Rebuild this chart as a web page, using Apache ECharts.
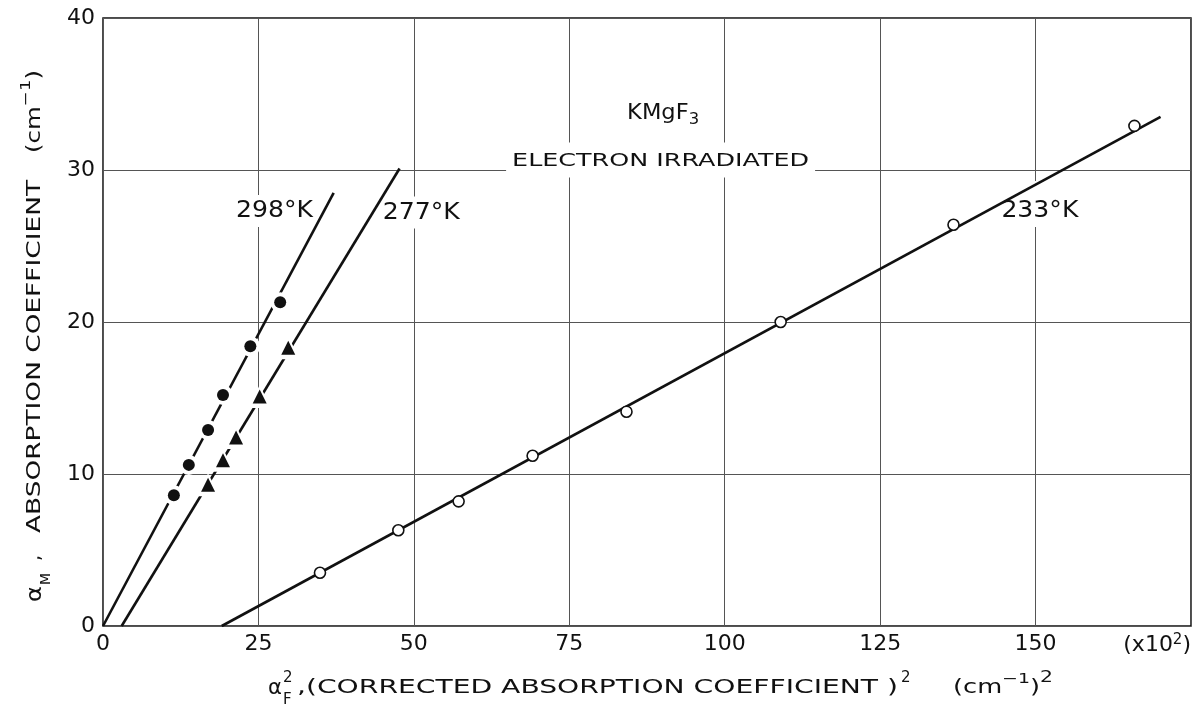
<!DOCTYPE html>
<html>
<head>
<meta charset="utf-8">
<script src="https://cdn.jsdelivr.net/npm/echarts@6/dist/echarts.min.js"></script>
<style>
  html, body { margin: 0; padding: 0; background: #fff; }
  #chart { width: 1202px; height: 712px; }
</style>
</head>
<body>
<div id="chart"></div>
<script>
// KMgF3, electron irradiated: alpha_M plotted against alpha_F^2 at three temperatures.

// Axis ticks (x in units of 10^2 cm^-2)
const xTickValues = [0, 25, 50, 75, 100, 125, 150, 175];
const xTickLabels = ['0', '25', '50', '75', '100', '125', '150', '(x10²)'];
const yTickValues = [0, 10, 20, 30, 40];

// 298 °K — filled circles
const k298X = [11.4, 13.8, 16.9, 19.3, 23.7, 28.5];
const k298Y = [8.6, 10.6, 12.9, 15.2, 18.4, 21.3];

// 277 °K — filled triangles
const k277X = [16.9, 19.3, 21.4, 25.2, 29.8];
const k277Y = [9.3, 10.9, 12.4, 15.1, 18.3];

// 233 °K — open circles
const k233X = [34.9, 47.5, 57.2, 69.1, 84.2, 109.0, 136.8, 165.9];
const k233Y = [3.5, 6.3, 8.2, 11.2, 14.1, 20.0, 26.4, 32.9];

// Straight-line fits (end points)
const fit298X = [0, 37.1];
const fit298Y = [0, 28.5];
const fit277X = [3.0, 47.7];
const fit277Y = [0, 30.1];
const fit233X = [19.1, 170.1];
const fit233Y = [0, 33.5];

// ---------------------------------------------------------------------------
const FONT = 'DejaVu Sans';
const INK = '#111';

const pairs = (xs, ys) => xs.map((x, i) => [x, ys[i]]);

const chart = echarts.init(document.getElementById('chart'), null, { renderer: 'canvas' });

const fitLine = (xs, ys) => ({
  type: 'line',
  data: pairs(xs, ys),
  symbol: 'none',
  silent: true,
  lineStyle: { color: INK, width: 2.6 },
  z: 2
});

// white halo under a filled marker, so the fitted line breaks around it
const halo = (xs, ys, symbol, size) => ({
  type: 'scatter', data: pairs(xs, ys), symbol: symbol, symbolSize: size,
  silent: true, z: 3,
  itemStyle: { color: '#fff', opacity: 1 }
});

// tick label text -> rich text, with "²" set as a raised small 2
const tickRich = s => s.indexOf('²') >= 0
  ? s.split('²').map(part => part ? '{a|' + part + '}' : '').join('{b|2}')
  : s;

chart.setOption({
  animation: false,
  backgroundColor: '#fff',
  grid: {
    left: 103, right: 11, top: 18, bottom: 86,
    show: true, borderColor: INK, borderWidth: 1.5, backgroundColor: 'transparent'
  },
  xAxis: {
    type: 'value',
    min: xTickValues[0],
    max: xTickValues[xTickValues.length - 1],
    interval: xTickValues[1] - xTickValues[0],
    axisLine: { show: false },
    axisTick: { show: false },
    splitLine: { show: true, lineStyle: { color: '#555', width: 1 } },
    axisLabel: {
      fontFamily: FONT, fontSize: 22, color: INK, margin: 7,
      alignMaxLabel: 'right',
      formatter: v => {
        const i = xTickValues.indexOf(v);
        return i < 0 ? '' : tickRich(xTickLabels[i]);
      },
      rich: {
        a: { fontFamily: FONT, fontSize: 22, color: INK, lineHeight: 24 },
        b: { fontFamily: FONT, fontSize: 15, color: INK, lineHeight: 8, verticalAlign: 'top' }
      }
    }
  },
  yAxis: {
    type: 'value',
    min: yTickValues[0],
    max: yTickValues[yTickValues.length - 1],
    interval: yTickValues[1] - yTickValues[0],
    axisLine: { show: false },
    axisTick: { show: false },
    splitLine: { show: true, lineStyle: { color: '#555', width: 1 } },
    axisLabel: { fontFamily: FONT, fontSize: 22, color: INK, margin: 8 }
  },
  series: [
    fitLine(fit298X, fit298Y),
    fitLine(fit277X, fit277Y),
    fitLine(fit233X, fit233Y),
    halo(k298X, k298Y, 'circle', 20),
    halo(k277X, k277Y, 'triangle', 23),
    {
      name: '298°K', type: 'scatter', data: pairs(k298X, k298Y),
      symbol: 'circle', symbolSize: 12, z: 4,
      itemStyle: { color: INK, opacity: 1 }
    },
    {
      name: '277°K', type: 'scatter', data: pairs(k277X, k277Y),
      symbol: 'triangle', symbolSize: 14, z: 4,
      itemStyle: { color: INK, opacity: 1 }
    },
    {
      name: '233°K', type: 'scatter', data: pairs(k233X, k233Y),
      symbol: 'circle', symbolSize: 11, z: 4,
      itemStyle: { color: '#fff', borderColor: INK, borderWidth: 1.6, opacity: 1 }
    }
  ]
});

// --- lettering ------------------------------------------------------------
const measureCtx = document.createElement('canvas').getContext('2d');
function textWidth(str, size) {
  measureCtx.font = size + 'px "' + FONT + '"';
  return measureCtx.measureText(str).width;
}

function textEl(str, size, x, y, k, vertical) {
  return {
    type: 'text', z: 1,
    x: x, y: y,
    rotation: vertical ? Math.PI / 2 : 0,
    scaleX: k,
    style: {
      text: str, font: size + 'px "' + FONT + '"', fill: INK,
      align: 'left', textAlign: 'left',
      verticalAlign: 'middle', textVerticalAlign: 'middle'
    }
  };
}

// A run of pieces (main text, raised or lowered bits) stretched together
// along the reading direction so that it covers `span` px (natural width if omitted).
function textRun(pieces, x, y, span, vertical) {
  const widths = pieces.map(p => textWidth(p.t, p.s));
  const total = widths.reduce((a, b) => a + b, 0);
  const k = span ? span / total : 1;
  let pos = 0;
  return pieces.map((p, i) => {
    const dy = p.dy || 0;
    const el = vertical
      ? textEl(p.t, p.s, x + dy, y - pos * k, k, true)
      : textEl(p.t, p.s, x + pos * k, y + dy, k, false);
    pos += widths[i];
    return el;
  });
}

const graphics = [];

// y-axis title, reading upward
const yTitleX = 35;
graphics.push(...textRun([{ t: 'α', s: 22 }], yTitleX, 602, 16, true));
graphics.push(...textRun([{ t: 'M', s: 14, dy: 11 }], yTitleX, 585, 12, true));
graphics.push(...textRun([{ t: ',', s: 19 }], yTitleX, 561, 6, true));
graphics.push(...textRun([{ t: 'ABSORPTION COEFFICIENT', s: 19 }], yTitleX, 533, 353, true));
graphics.push(...textRun([
  { t: '(cm', s: 19 }, { t: '−1', s: 14, dy: -9 }, { t: ')', s: 19 }
], yTitleX, 153, 83, true));

// x-axis title
const xTitleY = 688;
graphics.push(...textRun([{ t: 'α', s: 22 }], 268, xTitleY, 14));
graphics.push(...textRun([{ t: '2', s: 15 }], 283, xTitleY - 10));
graphics.push(...textRun([{ t: 'F', s: 15 }], 283, xTitleY + 12));
graphics.push(...textRun([{ t: ',(CORRECTED ABSORPTION COEFFICIENT )', s: 19 }], 297, xTitleY, 601));
graphics.push(...textRun([{ t: '2', s: 15 }], 901, xTitleY - 10));
graphics.push(...textRun([
  { t: '(cm', s: 19 }, { t: '−1', s: 14, dy: -9 }, { t: ')', s: 19 }, { t: '2', s: 15, dy: -10 }
], 953, xTitleY, 100));

// in-plot annotations, anchored in data coordinates
const annotations = [
  { pieces: [{ t: '298°K', s: 23 }], at: [21.4, 27.3], width: 77, pad: [5, 16, 16] },
  { pieces: [{ t: '277°K', s: 23 }], at: [45.0, 27.2], width: 77, pad: [5, 16, 16] },
  { pieces: [{ t: '233°K', s: 23 }], at: [144.5, 27.3], width: 77, pad: [5, 30, 16] },
  { pieces: [{ t: 'KMgF', s: 22 }, { t: '3', s: 16, dy: 7 }], at: [84.3, 33.75], width: 72, pad: null },
  { pieces: [{ t: 'ELECTRON IRRADIATED', s: 18.5 }], at: [65.8, 30.56], width: 297, pad: [6, 19, 16] }
];
annotations.forEach(a => {
  const [px, py] = chart.convertToPixel({ gridIndex: 0 }, a.at);
  if (a.pad) {
    const [h, up, down] = a.pad;
    graphics.push({
      type: 'rect', z: 1,
      shape: { x: px - h, y: py - up, width: a.width + 2 * h, height: up + down },
      style: { fill: '#fff' }
    });
  }
  graphics.push(...textRun(a.pieces, px, py, a.width));
});

chart.setOption({ graphic: { elements: graphics } });
</script>
</body>
</html>
